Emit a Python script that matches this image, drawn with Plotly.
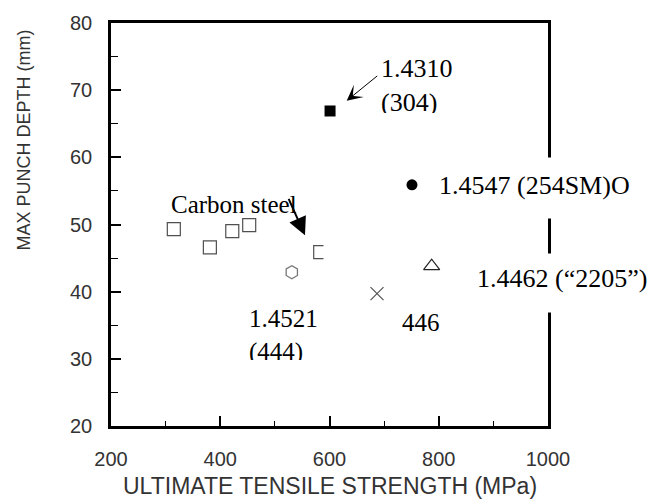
import plotly.graph_objects as go

# ---------------- data ----------------
carbon_x = [315, 381, 422, 453, 583]
carbon_y = [49.3, 46.6, 49.0, 49.9, 45.9]

g444_x, g444_y = [531], [42.9]
g304_x, g304_y = [601], [66.9]
g254_x, g254_y = [751], [55.9]
g2205_x, g2205_y = [787], [43.8]
g446_x, g446_y = [687], [39.7]

x_range = [200, 1000]
y_range = [20, 80]
x_title = "ULTIMATE TENSILE STRENGTH (MPa)"
y_title = "MAX PUNCH DEPTH (mm)"

# ---------------- layout geometry ----------------
W, H = 652, 500
L, R, T, B = 111, 548, 18, 426


def px2x(px):
    return x_range[0] + (px - L) * (x_range[1] - x_range[0]) / (R - L)


def px2y(py):
    return y_range[0] + (B - py) * (y_range[1] - y_range[0]) / (B - T)


fig = go.Figure()

fig.add_trace(go.Scatter(x=carbon_x, y=carbon_y, mode="markers", name="Carbon steel",
                         marker=dict(symbol="square-open", size=13, color="#505050",
                                     line=dict(width=1.2, color="#505050"))))
fig.add_trace(go.Scatter(x=g444_x, y=g444_y, mode="markers", name="1.4521 (444)",
                         marker=dict(symbol="hexagon-open", size=13, color="#777",
                                     line=dict(width=1.3, color="#777"))))
fig.add_trace(go.Scatter(x=g304_x, y=g304_y, mode="markers", name="1.4310 (304)",
                         marker=dict(symbol="square", size=11, color="black",
                                     line=dict(width=0))))
fig.add_trace(go.Scatter(x=g254_x, y=g254_y, mode="markers", name="1.4547 (254SM)",
                         marker=dict(symbol="circle", size=11, color="black",
                                     line=dict(width=0))))
fig.add_trace(go.Scatter(x=g2205_x, y=g2205_y, mode="markers", name="1.4462 (2205)",
                         marker=dict(symbol="triangle-up-open", size=14, color="#222",
                                     line=dict(width=1.2, color="#222"))))
fig.add_trace(go.Scatter(x=g446_x, y=g446_y, mode="markers", name="446",
                         marker=dict(symbol="x-thin-open", size=13, color="#555",
                                     line=dict(width=1.2, color="#555"))))

serif = "Liberation Serif"
sans = "Liberation Sans"

ann = []
# white patches as in the original: right part of last carbon-steel square,
# and the two breaks in the right frame line behind the labels
ann.append(dict(x=px2x(323), y=px2y(250), xref="x", yref="y", text=" ", showarrow=False,
                xanchor="left", yanchor="middle", width=10, height=18, bgcolor="white",
                borderpad=0))
ann.append(dict(x=px2x(548), y=px2y(185), xref="x", yref="y", text=" ", showarrow=False,
                xanchor="center", yanchor="middle", width=14, height=60, bgcolor="white",
                borderpad=0))
ann.append(dict(x=px2x(548), y=px2y(281), xref="x", yref="y", text=" ", showarrow=False,
                xanchor="center", yanchor="middle", width=14, height=58, bgcolor="white",
                borderpad=0))
# labels
ann.append(dict(x=px2x(169), y=px2y(202), xref="x", yref="y", text="Carbon steel",
                showarrow=False, xanchor="left", yanchor="middle",
                font=dict(family=serif, size=25, color="black")))
ann.append(dict(x=px2x(380), y=px2y(48), xref="x", yref="y", text="1.4310<br>(304)",
                showarrow=False, xanchor="left", yanchor="top", align="left", valign="top",
                height=59, borderpad=0,
                font=dict(family=serif, size=26, color="black")))
ann.append(dict(x=px2x(248), y=px2y(302), xref="x", yref="y", text="1.4521<br>(444)",
                showarrow=False, xanchor="left", yanchor="top", align="left", valign="top",
                height=55, borderpad=0,
                font=dict(family=serif, size=25, color="black")))
ann.append(dict(x=px2x(400), y=px2y(321), xref="x", yref="y", text="446",
                showarrow=False, xanchor="left", yanchor="middle",
                font=dict(family=serif, size=25, color="black")))
ann.append(dict(x=px2x(438), y=px2y(183), xref="x", yref="y", text="1.4547 (254SM)O",
                showarrow=False, xanchor="left", yanchor="middle", borderpad=0,
                font=dict(family=serif, size=26, color="black")))
ann.append(dict(x=px2x(476), y=px2y(277), xref="x", yref="y", text="1.4462 (“2205”)",
                showarrow=False, xanchor="left", yanchor="middle", borderpad=0,
                font=dict(family=serif, size=26, color="black")))
# arrows
ann.append(dict(x=px2x(346.7), y=px2y(96.7), xref="x", yref="y", text="", showarrow=True,
                ax=32, ay=-26, arrowhead=3, arrowsize=2.6, arrowwidth=1, arrowcolor="black"))
ann.append(dict(x=px2x(305), y=px2y(233), xref="x", yref="y", text="", showarrow=True,
                ax=-17, ay=-38, arrowhead=2, arrowsize=1.8, arrowwidth=2, arrowcolor="black"))
# axis titles
ann.append(dict(x=0.5, y=(B - 487) / (B - T), xref="paper", yref="paper", text=x_title,
                showarrow=False, xanchor="center", yanchor="middle",
                font=dict(family=sans, size=23, color="#333")))
ann.append(dict(x=(24 - L) / (R - L), y=(B - 137) / (B - T), xref="paper", yref="paper",
                text=y_title, textangle=-90, showarrow=False, xanchor="center",
                yanchor="middle", font=dict(family=sans, size=18, color="#333")))

fig.update_layout(
    width=W, height=H,
    margin=dict(l=L, r=W - R, t=T, b=H - B, pad=0),
    paper_bgcolor="white", plot_bgcolor="white",
    showlegend=False,
    annotations=ann,
)

common = dict(showgrid=False, zeroline=False, showline=True, linewidth=2.5,
              linecolor="black", mirror=True, ticks="inside", ticklen=10, tickwidth=2,
              tickcolor="black", tickfont=dict(family=sans, size=20, color="#333"))

fig.update_xaxes(range=x_range, tick0=200, dtick=200, ticklabelstandoff=13,
                 minor=dict(ticks="inside", ticklen=5, tickwidth=1, dtick=100,
                            tickcolor="black", showgrid=False), **common)
fig.update_yaxes(range=y_range, tick0=20, dtick=10, ticklabelstandoff=12,
                 minor=dict(ticks="inside", ticklen=7, tickwidth=1, dtick=5,
                            tickcolor="black", showgrid=False), **common)

fig.write_html("out.html")
